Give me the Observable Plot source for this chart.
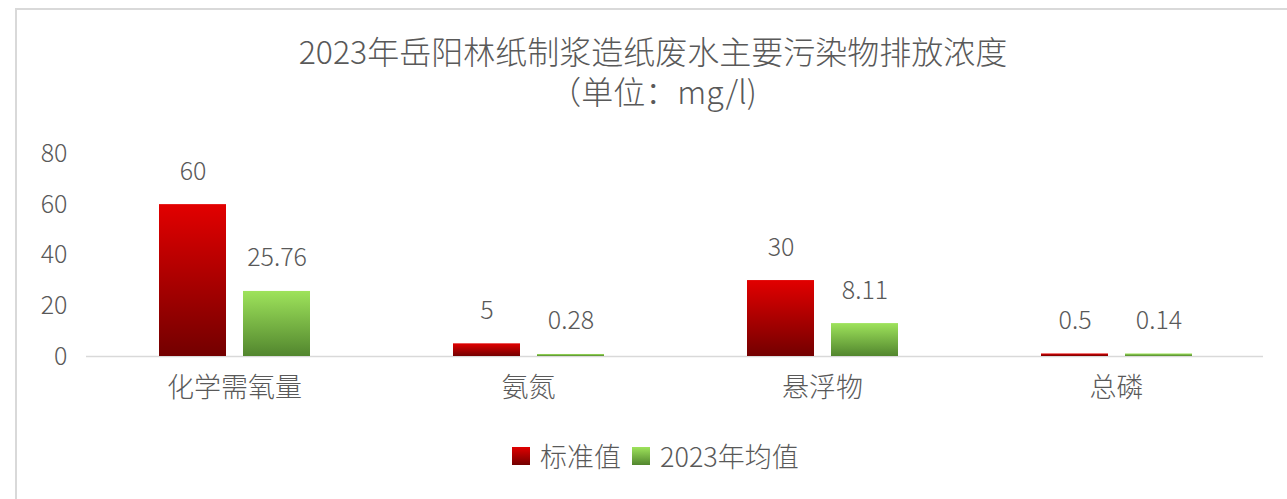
<!DOCTYPE html>
<html>
<head>
<meta charset="utf-8">
<script src="https://cdn.jsdelivr.net/npm/d3@7"></script>
<script src="https://cdn.jsdelivr.net/npm/@observablehq/plot@0.6"></script>
<style>
  html, body { margin: 0; padding: 0; background: #fff; }
  body { width: 1287px; height: 499px; position: relative; overflow: hidden;
         font-family: "Noto Sans CJK SC", "Noto Sans", sans-serif; font-weight: 300; color: #595959; }
  #frame { position: absolute; left: 15px; top: 8px; width: 1400px; height: 600px;
           border-top: 2px solid #d9d9d9; border-left: 2px solid #d9d9d9; }
  #title { position: absolute; left: 253px; width: 800px; top: 30px; text-align: center;
           white-space: pre-line; font-size: 32px; line-height: 40px; }
  #chart { position: absolute; left: 0; top: 120px; }
  .leg { position: absolute; top: 437px; font-size: 27px; line-height: 38px; white-space: nowrap; }
  .sw { position: absolute; top: 447px; width: 18px; height: 18px; }
</style>
</head>
<body>
<div id="frame"></div>
<div id="title"></div>
<div id="chart"></div>
<div class="sw" style="left:512px;background:linear-gradient(#e00000,#730000)"></div>
<div class="leg" style="left:540px">标准值</div>
<div class="sw" style="left:632px;background:linear-gradient(#9ee35b,#52862e)"></div>
<div class="leg" style="left:660px">2023年均值</div>
<script>
const titleText = "2023年岳阳林纸制浆造纸废水主要污染物排放浓度\n（单位：mg/l)";
const categories = ["化学需氧量", "氨氮", "悬浮物", "总磷"];
const series = ["标准值", "2023年均值"];
// bar heights as drawn in the picture
const standardValues = [60, 5, 30, 1];
const averageValues = [25.7, 0.8, 13, 1];
// data labels as printed
const standardLabels = ["60", "5", "30", "0.5"];
const averageLabels = ["25.76", "0.28", "8.11", "0.14"];
const yTicks = [0, 20, 40, 60, 80];

document.getElementById("title").textContent = titleText;

const std = categories.map((c, i) => ({category: c, value: standardValues[i], label: standardLabels[i]}));
const avg = categories.map((c, i) => ({category: c, value: averageValues[i], label: averageLabels[i]}));

const plot = Plot.plot({
  width: 1287, height: 300,
  marginLeft: 86, marginRight: 24, marginTop: 33.5, marginBottom: 64,
  style: {fontFamily: '"Noto Sans CJK SC", sans-serif', fontWeight: 300, fontSize: "25px", color: "#595959", background: "transparent", overflow: "visible"},
  x: {domain: categories, padding: 0, axis: null},
  y: {domain: [0, 80], ticks: yTicks, tickSize: 0, tickPadding: 19, label: null},
  marks: [
    Plot.ruleY([0], {stroke: "#d9d9d9", strokeWidth: 1.5}),
    Plot.barY(std, {x: "category", y: "value", fill: "url(#gRed)", insetLeft: 72, insetRight: 155}),
    Plot.barY(avg, {x: "category", y: "value", fill: "url(#gGreen)", insetLeft: 156, insetRight: 71}),
    Plot.text(std, {x: "category", y: "value", text: "label", dx: -41.5, dy: -33, fontSize: 25}),
    Plot.text(avg, {x: "category", y: "value", text: "label", dx: 42.5, dy: -33, fontSize: 25}),
    Plot.text(categories, {x: d => d, y: () => 0, text: d => d, dy: 32, fontSize: 27})
  ]
});

const svg = d3.select(plot.tagName.toLowerCase() === "svg" ? plot : plot.querySelector("svg"));
const defs = svg.insert("defs", ":first-child");
const g1 = defs.append("linearGradient").attr("id", "gRed").attr("x1", 0).attr("y1", 0).attr("x2", 0).attr("y2", 1);
g1.append("stop").attr("offset", "0%").attr("stop-color", "#e20000");
g1.append("stop").attr("offset", "100%").attr("stop-color", "#730000");
const g2 = defs.append("linearGradient").attr("id", "gGreen").attr("x1", 0).attr("y1", 0).attr("x2", 0).attr("y2", 1);
g2.append("stop").attr("offset", "0%").attr("stop-color", "#9ee35b");
g2.append("stop").attr("offset", "100%").attr("stop-color", "#52862e");

document.getElementById("chart").appendChild(plot);
</script>
</body>
</html>
